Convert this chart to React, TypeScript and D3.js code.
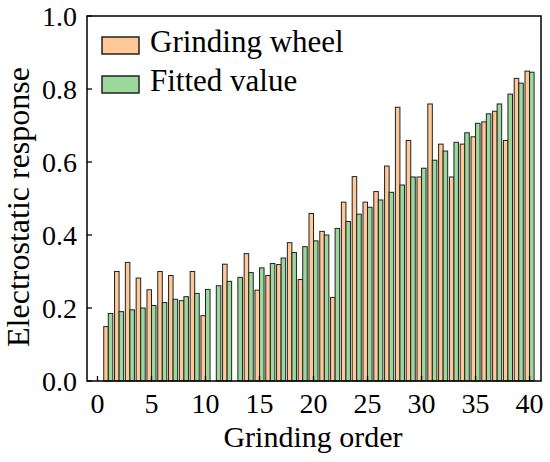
import React from 'react';
import * as d3 from 'd3';

// Grinding order 1..40
const orders = d3.range(1, 41);

// Grinding wheel measured response (null = no bar drawn)
const wheelValues: (number | null)[] = [
  0.149, 0.30, 0.325, 0.282, 0.25, 0.30, 0.289, 0.22, 0.30, 0.179,
  null, 0.32, null, 0.349, 0.249, 0.289, 0.319, 0.379, 0.278, 0.459,
  0.41, 0.229, 0.49, 0.56, 0.49, 0.519, 0.589, 0.75, 0.659, 0.559,
  0.759, 0.649, 0.559, 0.649, 0.669, 0.71, 0.739, 0.659, 0.829, 0.849,
];

// Fitted value
const fittedValues: number[] = [
  0.185, 0.19, 0.195, 0.20, 0.207, 0.215, 0.224, 0.231, 0.24, 0.251,
  0.261, 0.273, 0.284, 0.297, 0.31, 0.322, 0.337, 0.352, 0.368, 0.384,
  0.40, 0.418, 0.437, 0.457, 0.476, 0.496, 0.517, 0.537, 0.559, 0.583,
  0.605, 0.63, 0.654, 0.68, 0.706, 0.732, 0.759, 0.786, 0.816, 0.846,
];

const xTicks = [0, 5, 10, 15, 20, 25, 30, 35, 40];
const yTicks = [0, 0.2, 0.4, 0.6, 0.8, 1.0];

const seriesNames = ['Grinding wheel', 'Fitted value'];
const colors = ['#FEC897', '#9CD89C'];

const FONT = "'Liberation Serif', 'Times New Roman', Tinos, 'DejaVu Serif', serif";

export default function App() {
  const left = 87;
  const right = 541;
  const top = 16;
  const bottom = 381;

  const x = d3.scaleLinear().domain([-0.97, 41.06]).range([left, right]);
  const y = d3.scaleLinear().domain([0, 1]).range([bottom, top]);
  const bw = 0.42;
  const txt = { fontFamily: FONT };

  return (
    <svg
      width={550}
      height={462}
      style={{ position: 'absolute', left: 0, top: 0, background: '#fff' }}
    >
      {/* bars */}
      {orders.map((o, i) => {
        const w = wheelValues[i];
        const f = fittedValues[i];
        return (
          <g key={o}>
            {w !== null && (
              <rect
                x={x(o - bw)}
                y={y(w)}
                width={x(o) - x(o - bw)}
                height={y(0) - y(w)}
                fill={colors[0]}
                stroke="#222"
                strokeWidth={1}
              />
            )}
            <rect
              x={x(o)}
              y={y(f)}
              width={x(o + bw) - x(o)}
              height={y(0) - y(f)}
              fill={colors[1]}
              stroke="#222"
              strokeWidth={1}
            />
          </g>
        );
      })}

      {/* frame */}
      <rect
        x={left}
        y={top}
        width={right - left}
        height={bottom - top}
        fill="none"
        stroke="#000"
        strokeWidth={1.5}
      />

      {/* y ticks */}
      {yTicks.map((t) => (
        <g key={t}>
          <line x1={left} x2={left + 5} y1={y(t)} y2={y(t)} stroke="#000" strokeWidth={1.3} />
          <text x={left - 10} y={y(t) + 10} textAnchor="end" fontSize={28} fill="#000" style={txt}>
            {t.toFixed(1)}
          </text>
        </g>
      ))}

      {/* x ticks */}
      {xTicks.map((t) => (
        <g key={t}>
          <line x1={x(t)} x2={x(t)} y1={bottom} y2={bottom - 5} stroke="#000" strokeWidth={1.3} />
          <text x={x(t)} y={bottom + 32} textAnchor="middle" fontSize={28} fill="#000" style={txt}>
            {t}
          </text>
        </g>
      ))}

      {/* axis titles */}
      <text x={313} y={447} textAnchor="middle" fontSize={30} fill="#000" style={txt}>
        Grinding order
      </text>
      <text
        transform={`translate(29, 207) rotate(-90)`}
        textAnchor="middle"
        fontSize={32}
        fill="#000"
        style={txt}
      >
        Electrostatic response
      </text>

      {/* legend */}
      {seriesNames.map((name, i) => (
        <g key={name} transform={`translate(102, ${37 + i * 39})`}>
          <rect x={0} y={0} width={37} height={17} fill={colors[i]} stroke="#222" strokeWidth={1.5} />
          <text x={48} y={15} fontSize={31} fill="#000" style={txt}>
            {name}
          </text>
        </g>
      ))}
    </svg>
  );
}
